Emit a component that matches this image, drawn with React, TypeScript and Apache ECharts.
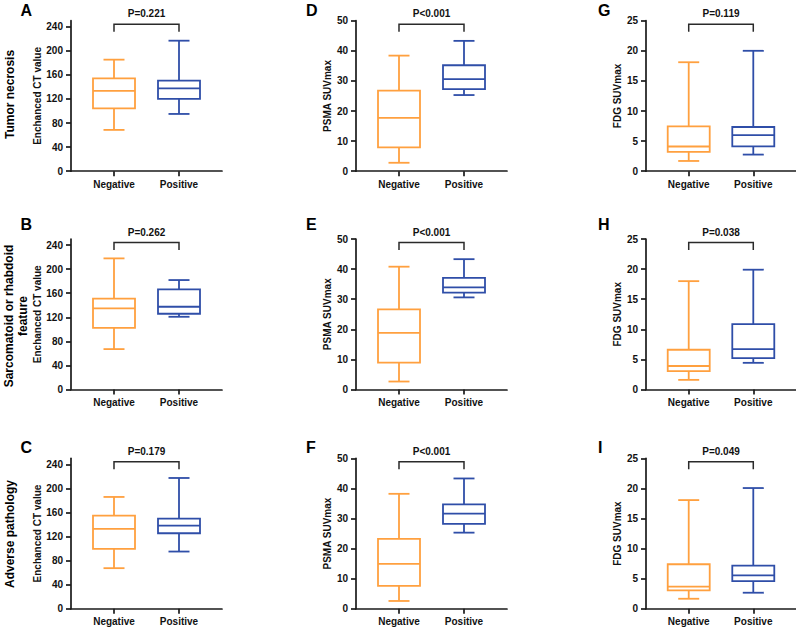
import React, { useEffect, useRef } from "react";
import * as echarts from "echarts";

const categories = ["Negative", "Positive"];
const ctTicks = [0, 40, 80, 120, 160, 200, 240];
const psmaTicks = [0, 10, 20, 30, 40, 50];
const fdgTicks = [0, 5, 10, 15, 20, 25];

// [min, Q1, median, Q3, max]
const aNeg = [68.6, 104.5, 133.3, 154.3, 185.3];
const aPos = [95.1, 120, 137.7, 150.4, 216.8];
const bNeg = [67.1, 102.5, 134.7, 150.8, 217.8];
const bPos = [120.8, 125.8, 137.5, 166.3, 181.8];
const cNeg = [67.5, 99.5, 132.7, 154.8, 185.8];
const cPos = [95.1, 125.5, 138.2, 149.9, 217.3];
const dNeg = [2.8, 7.9, 17.7, 26.8, 38.4];
const dPos = [25.3, 27.3, 30.6, 35.2, 43.3];
const eNeg = [2.65, 8.9, 18.8, 26.6, 40.8];
const ePos = [30.6, 32.2, 33.9, 37.1, 43.3];
const fNeg = [2.6, 7.6, 14.9, 23.2, 38.2];
const fPos = [25.3, 28.2, 31.6, 34.7, 43.3];
const gNeg = [1.7, 3.2, 4.1, 7.45, 18.1];
const gPos = [2.76, 4.14, 6.0, 7.34, 20.0];
const hNeg = [1.6, 3.05, 3.9, 6.6, 18.0];
const hPos = [4.43, 5.2, 6.7, 10.86, 19.9];
const iNeg = [1.67, 3.06, 3.67, 7.4, 18.06];
const iPos = [2.67, 4.61, 5.56, 7.17, 20.06];

const panelLetters = ["A", "B", "C", "D", "E", "F", "G", "H", "I"];
const pValues = ["P=0.221", "P=0.262", "P=0.179", "P<0.001", "P<0.001", "P<0.001", "P=0.119", "P=0.038", "P=0.049"];
const rowLabels = ["Tumor necrosis", "Sarcomatoid or rhabdoid\nfeature", "Adverse pathology"];
const yNames = ["Enchanced CT value", "PSMA SUVmax", "FDG SUVmax"];

const FONT = '"Liberation Sans", Arial, sans-serif';
const ORANGE = "#FFA03F";
const BLUE = "#2F4EA8";
const DARK = "#1a1a1a";

const panels = [
  { neg: aNeg, pos: aPos, ticks: ctTicks, max: 250, col: 0, row: 0 },
  { neg: bNeg, pos: bPos, ticks: ctTicks, max: 250, col: 0, row: 1 },
  { neg: cNeg, pos: cPos, ticks: ctTicks, max: 250, col: 0, row: 2 },
  { neg: dNeg, pos: dPos, ticks: psmaTicks, max: 50, col: 1, row: 0 },
  { neg: eNeg, pos: ePos, ticks: psmaTicks, max: 50, col: 1, row: 1 },
  { neg: fNeg, pos: fPos, ticks: psmaTicks, max: 50, col: 1, row: 2 },
  { neg: gNeg, pos: gPos, ticks: fdgTicks, max: 25, col: 2, row: 0 },
  { neg: hNeg, pos: hPos, ticks: fdgTicks, max: 25, col: 2, row: 1 },
  { neg: iNeg, pos: iPos, ticks: fdgTicks, max: 25, col: 2, row: 2 },
];

const colLefts = [71, 356, 646];
const rowTops = [20.7, 239, 458.3];
const nameGaps = [28.5, 22, 22.5];
const letterX = [20.5, 306, 598];
const letterY = [10.5, 224, 447.5];

function buildOption() {
  const grid: any[] = [];
  const xAxis: any[] = [];
  const yAxis: any[] = [];
  const series: any[] = [];

  panels.forEach((p, i) => {
    grid.push({ left: colLefts[p.col], top: rowTops[p.row], width: 151, height: 150.5 });
    xAxis.push({
      type: "value",
      gridIndex: i,
      min: -0.6615,
      max: 1.6615,
      splitLine: { show: false },
      axisLine: { show: true, onZero: false, lineStyle: { color: DARK, width: 1.7 } },
      axisTick: { show: true, length: 5, customValues: [0, 1], lineStyle: { color: DARK, width: 1.7 } },
      axisLabel: {
        customValues: [0, 1],
        formatter: (v: number) => categories[Math.round(v)],
        color: "#111",
        fontFamily: FONT,
        fontWeight: "bold",
        fontSize: 10,
        margin: 8,
      },
    });
    yAxis.push({
      type: "value",
      gridIndex: i,
      min: 0,
      max: p.max,
      name: yNames[p.col],
      nameLocation: "middle",
      nameGap: nameGaps[p.col],
      nameTextStyle: { color: "#111", fontFamily: FONT, fontWeight: "bold", fontSize: 10 },
      splitLine: { show: false },
      axisLine: { show: true, onZero: false, lineStyle: { color: DARK, width: 1.7 } },
      axisTick: { show: true, length: 5, customValues: p.ticks, lineStyle: { color: DARK, width: 1.7 } },
      axisLabel: {
        customValues: p.ticks,
        color: "#111",
        fontFamily: FONT,
        fontWeight: "bold",
        fontSize: 10,
        margin: 8,
      },
    });

    series.push({
      type: "custom",
      xAxisIndex: i,
      yAxisIndex: i,
      encode: { x: 0, y: [1, 2, 3, 4, 5] },
      data: [
        [0, ...p.neg],
        [1, ...p.pos],
      ],
      renderItem: (params: any, api: any) => {
        const x = api.value(0);
        const color = x === 0 ? ORANGE : BLUE;
        const pMin = api.coord([x, api.value(1)]);
        const pQ1 = api.coord([x, api.value(2)]);
        const pMed = api.coord([x, api.value(3)]);
        const pQ3 = api.coord([x, api.value(4)]);
        const pMax = api.coord([x, api.value(5)]);
        const cx = pMin[0];
        const hw = 21;
        const cw = 10.5;
        const ls = { stroke: color, lineWidth: 1.8, fill: "none" };
        return {
          type: "group",
          children: [
            { type: "line", shape: { x1: cx, y1: pMax[1], x2: cx, y2: pQ3[1] }, style: ls },
            { type: "line", shape: { x1: cx, y1: pQ1[1], x2: cx, y2: pMin[1] }, style: ls },
            { type: "line", shape: { x1: cx - cw, y1: pMax[1], x2: cx + cw, y2: pMax[1] }, style: ls },
            { type: "line", shape: { x1: cx - cw, y1: pMin[1], x2: cx + cw, y2: pMin[1] }, style: ls },
            {
              type: "rect",
              shape: { x: cx - hw, y: pQ3[1], width: hw * 2, height: pQ1[1] - pQ3[1] },
              style: { stroke: color, lineWidth: 1.8, fill: "#fff" },
            },
            { type: "line", shape: { x1: cx - hw, y1: pMed[1], x2: cx + hw, y2: pMed[1] }, style: ls },
          ],
        };
      },
    });

    series.push({
      type: "custom",
      xAxisIndex: i,
      yAxisIndex: i,
      encode: { x: 0, y: 1 },
      data: [[0, p.max]],
      renderItem: (params: any, api: any) => {
        const top = api.coord([0, p.max]);
        const right = api.coord([1, p.max]);
        const y = top[1] + 3.5;
        const ls = { stroke: "#2a2a2a", lineWidth: 1.5, fill: "none" };
        return {
          type: "group",
          children: [
            {
              type: "polyline",
              shape: { points: [[top[0], y + 7.5], [top[0], y], [right[0], y], [right[0], y + 7.5]] },
              style: ls,
            },
            {
              type: "text",
              x: (top[0] + right[0]) / 2,
              y: top[1] - 7,
              style: {
                text: pValues[i],
                fill: "#111",
                font: `bold 10px ${FONT}`,
                align: "center",
                verticalAlign: "middle",
                textAlign: "center",
                textVerticalAlign: "middle",
              },
            },
          ],
        };
      },
    });
  });

  const graphic: any[] = [];
  panels.forEach((p, i) => {
    graphic.push({
      type: "text",
      x: letterX[p.col],
      y: letterY[p.row],
      style: {
        text: panelLetters[i],
        fill: "#000",
        font: `bold 16px ${FONT}`,
        align: "left",
        verticalAlign: "middle",
      },
    });
  });
  const rowCenters = [94.5, 316, 534];
  const rowX = [9.5, 16.2, 10];
  rowLabels.forEach((t, r) => {
    graphic.push({
      type: "text",
      x: rowX[r],
      y: rowCenters[r],
      rotation: Math.PI / 2,
      style: {
        text: t,
        fill: "#000",
        font: `bold 12px ${FONT}`,
        lineHeight: 14,
        align: "center",
        verticalAlign: "middle",
      },
    });
  });

  return {
    animation: false,
    backgroundColor: "#fff",
    grid,
    xAxis,
    yAxis,
    series,
    graphic,
  };
}

export default function App() {
  const ref = useRef<HTMLDivElement>(null);
  useEffect(() => {
    if (!ref.current) return;
    const chart = echarts.init(ref.current, null, { renderer: "svg" });
    chart.setOption(buildOption() as any);
    return () => chart.dispose();
  }, []);
  return (
    <div
      ref={ref}
      style={{ position: "absolute", left: 0, top: 0, width: 796, height: 630, background: "#fff" }}
    />
  );
}
